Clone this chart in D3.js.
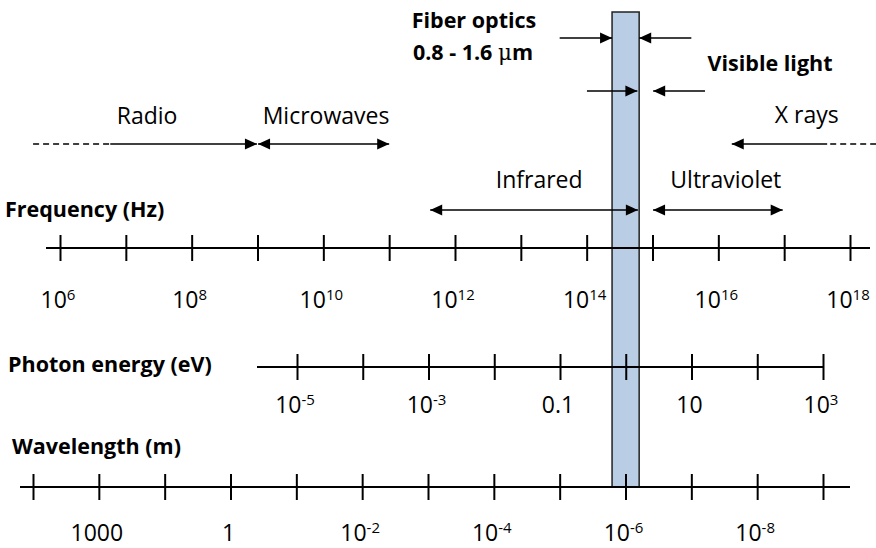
<!DOCTYPE html>
<html>
<head>
<meta charset="utf-8">
<script src="https://cdn.jsdelivr.net/npm/d3@7"></script>
<style>
body { margin: 0; background: #fff; }
svg { display: block; }
text { font-family: "Open Sans", sans-serif; fill: #000; }
</style>
</head>
<body>
<svg id="chart" width="876" height="548"></svg>
<script>
// tick values on the three scales
var freqTicks = [1e6, 1e7, 1e8, 1e9, 1e10, 1e11, 1e12, 1e13, 1e14, 1e15, 1e16, 1e17, 1e18];
var freqLabelVals = [1e6, 1e8, 1e10, 1e12, 1e14, 1e16, 1e18];
var freqLabelBase = ["10", "10", "10", "10", "10", "10", "10"];
var freqLabelExp = ["6", "8", "10", "12", "14", "16", "18"];

var energyTicks = [1e-5, 1e-4, 1e-3, 1e-2, 1e-1, 1, 10, 100, 1000];
var energyLabelVals = [1e-5, 1e-3, 0.1, 10, 1000];
var energyLabelBase = ["10", "10", "0.1", "10", "10"];
var energyLabelExp = ["-5", "-3", "", "", "3"];

var waveTicks = [1e3, 1e2, 10, 1, 1e-1, 1e-2, 1e-3, 1e-4, 1e-5, 1e-6, 1e-7, 1e-8, 1e-9];
var waveLabelVals = [1e2, 1, 1e-2, 1e-4, 1e-6, 1e-8];
var waveLabelBase = ["1000", "1", "10", "10", "10", "10"];
var waveLabelExp = ["", "", "-2", "-4", "-6", "-8"];

// spectral bands, in Hz
var bandNames = ["Radio", "Microwaves", "Infrared", "Ultraviolet", "X rays"];
var bandFrom = [5.8e6, 1.02e9, 4.2e11, 1.02e15, 1.6e16];
var bandTo = [9.8e8, 1e11, 6e14, 9.5e16, 4.5e17];
var bandHeads = ["end", "both", "both", "both", "start"];
var bandDash = [3.9e5, null, null, null, 2.5e18];
var bandLabelAt = [2.1e7, 1.1e10, 1.9e13, 1.3e16, 2.2e17];
var bandRow = [0, 0, 1, 1, 0];

// fiber optics window and visible light, in metres
var fiberBand = [1.6e-6, 0.62e-6];
var fiberTails = [1e-5, 1e-7];
var visibleBand = [0.66e-6, 0.38e-6];
var visibleTails = [3.85e-6, 6.2e-8];

var svg = d3.select("#chart");

var freqScale = d3.scaleLog().domain([1e6, 1e18]).range([60, 850]);
var energyScale = d3.scaleLog().domain([1e-5, 1e3]).range([297, 823]);
var waveScale = d3.scaleLog().domain([1e3, 1e-9]).range([33, 823]);

var freqY = 248, energyY = 367, waveY = 487;
var labelSize = "23px", supSize = "15px", boldSize = "21.5px";

// fiber bar goes behind everything
svg.append("rect")
	.attr("x", waveScale(fiberBand[0]))
	.attr("y", 12)
	.attr("width", waveScale(fiberBand[1]) - waveScale(fiberBand[0]))
	.attr("height", waveY - 12)
	.attr("fill", "#b9cde5")
	.attr("stroke", "#222")
	.attr("stroke-width", 1.5);

function drawAxis(scale, ticks, y, x0, x1) {
	var g = svg.append("g").attr("transform", "translate(0," + y + ")");
	g.append("line")
		.attr("x1", x0).attr("x2", x1)
		.attr("stroke", "#000").attr("stroke-width", 2);
	var axis = d3.axisBottom(scale).tickValues(ticks).tickSize(13).tickFormat("");
	g.call(axis);
	g.select(".domain").remove();
	g.selectAll(".tick line")
		.attr("y1", -13)
		.attr("stroke", "#000")
		.attr("stroke-width", 2);
}

function drawLabels(scale, vals, base, exp, y) {
	vals.forEach(function(v, i) {
		var t = svg.append("text")
			.attr("x", scale(v) - 2)
			.attr("y", y)
			.attr("text-anchor", "middle")
			.style("font-size", labelSize);
		t.append("tspan").text(base[i]);
		if (exp[i]) {
			t.append("tspan").attr("dy", -8).style("font-size", supSize).text(exp[i]);
		}
	});
}

drawAxis(freqScale, freqTicks, freqY, freqScale.range()[0] - 14, freqScale.range()[1] + 20);
drawAxis(energyScale, energyTicks, energyY, energyScale.range()[0] - 40, energyScale.range()[1]);
drawAxis(waveScale, waveTicks, waveY, waveScale.range()[0] - 13, waveScale.range()[1] + 27);

drawLabels(freqScale, freqLabelVals, freqLabelBase, freqLabelExp, 308);
drawLabels(energyScale, energyLabelVals, energyLabelBase, energyLabelExp, 413);
drawLabels(waveScale, waveLabelVals, waveLabelBase, waveLabelExp, 541);

// axis titles
var titles = [["Frequency (Hz)", 5, 217], ["Photon energy (eV)", 8, 372], ["Wavelength (m)", 12, 454]];
titles.forEach(function(d) {
	svg.append("text")
		.attr("x", d[1]).attr("y", d[2])
		.style("font-size", boldSize)
		.style("font-weight", "bold")
		.text(d[0]);
});

// arrow helpers
function head(x, y, dir) {
	// dir = +1 points right, -1 points left
	var len = 12, hw = 5.5;
	svg.append("path")
		.attr("d", "M" + x + "," + y + "L" + (x - dir * len) + "," + (y - hw) + "L" + (x - dir * len) + "," + (y + hw) + "Z")
		.attr("fill", "#000");
}

function arrow(xa, xb, y, heads) {
	svg.append("line")
		.attr("x1", xa).attr("x2", xb)
		.attr("y1", y).attr("y2", y)
		.attr("stroke", "#000").attr("stroke-width", 1.5);
	if (heads == "end" || heads == "both") head(xb, y, xb > xa ? 1 : -1);
	if (heads == "start" || heads == "both") head(xa, y, xa > xb ? 1 : -1);
}

var rowArrowY = [144, 210];
var rowLabelY = [124, 188];

bandNames.forEach(function(name, i) {
	var y = rowArrowY[bandRow[i]];
	var xa = freqScale(bandFrom[i]), xb = freqScale(bandTo[i]);
	arrow(xa, xb, y, bandHeads[i]);
	if (bandDash[i]) {
		var xs = bandHeads[i] == "end" ? xa : xb;
		svg.append("line")
			.attr("x1", freqScale(bandDash[i])).attr("x2", xs)
			.attr("y1", y).attr("y2", y)
			.attr("stroke", "#000").attr("stroke-width", 1.5)
			.attr("stroke-dasharray", "6,4");
	}
	svg.append("text")
		.attr("x", freqScale(bandLabelAt[i]))
		.attr("y", rowLabelY[bandRow[i]] - (name == "X rays" ? 1 : 0))
		.attr("text-anchor", "middle")
		.style("font-size", labelSize)
		.text(name);
});

// fiber optics arrows
arrow(waveScale(fiberTails[0]), waveScale(fiberBand[0]), 38, "end");
arrow(waveScale(fiberTails[1]), waveScale(fiberBand[1]), 38, "end");

svg.append("text")
	.attr("x", 474).attr("y", 28)
	.attr("text-anchor", "middle")
	.style("font-size", boldSize).style("font-weight", "bold")
	.text("Fiber optics");
var fiberRange = svg.append("text")
	.attr("x", 473).attr("y", 60)
	.attr("text-anchor", "middle")
	.style("font-size", boldSize).style("font-weight", "bold");
fiberRange.append("tspan").text("0.8 - 1.6 ");
fiberRange.append("tspan").style("font-weight", "normal").style("font-family", "'DejaVu Serif', serif").text("μ");
fiberRange.append("tspan").text("m");

// visible light arrows
arrow(waveScale(visibleTails[0]), waveScale(visibleBand[0]), 91, "end");
arrow(waveScale(visibleTails[1]), waveScale(visibleBand[1]), 91, "end");

svg.append("text")
	.attr("x", 770).attr("y", 71)
	.attr("text-anchor", "middle")
	.style("font-size", boldSize).style("font-weight", "bold")
	.text("Visible light");
</script>
</body>
</html>
